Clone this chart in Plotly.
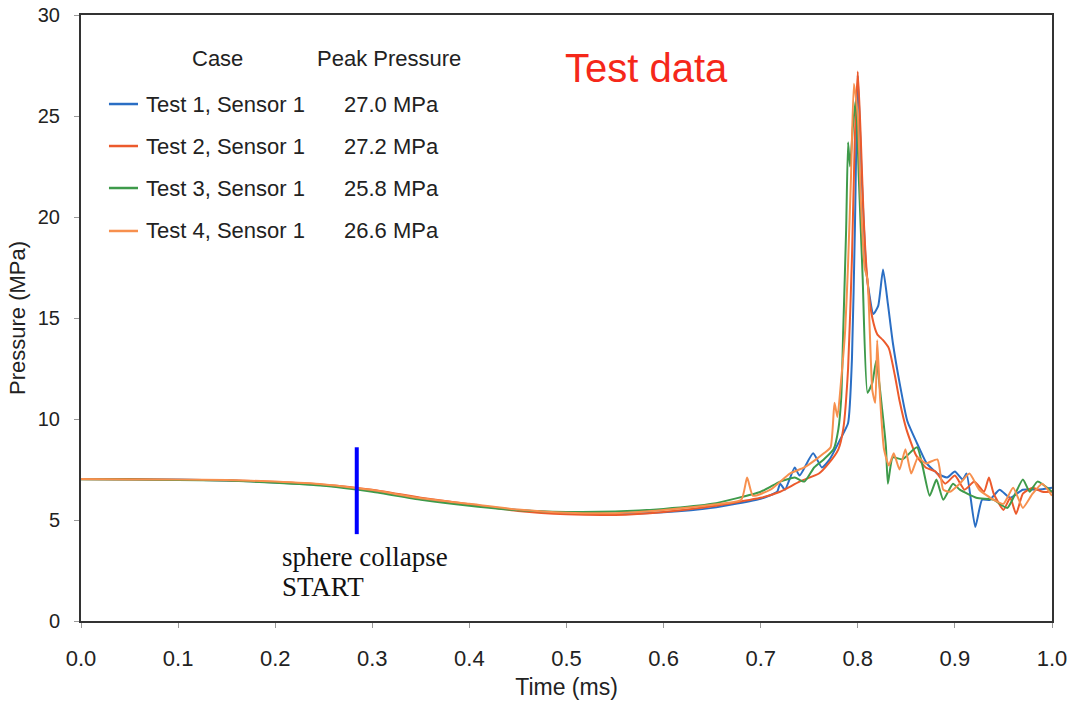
import plotly.graph_objects as go

# Shared baseline time grid (ms)
t_base = [0.0, 0.05, 0.1, 0.15, 0.2, 0.25, 0.3, 0.35, 0.4, 0.45, 0.5, 0.55, 0.6, 0.65]

# Test 1, Sensor 1
t1_time = t_base + [0.70, 0.717, 0.720, 0.725, 0.735, 0.740, 0.754, 0.763, 0.771, 0.782, 0.790,
                    0.794, 0.797, 0.800, 0.804, 0.809, 0.816, 0.821, 0.826, 0.831, 0.836, 0.843,
                    0.851, 0.861, 0.871, 0.882, 0.892, 0.900, 0.908, 0.912, 0.921, 0.928, 0.936,
                    0.946, 0.957, 0.970, 0.985, 1.0]
t1_p = [7.03, 7.02, 7.0, 6.96, 6.86, 6.72, 6.45, 6.05, 5.75, 5.5, 5.35, 5.3, 5.38, 5.6] + \
       [6.05, 6.4, 6.8, 6.5, 7.6, 7.2, 8.3, 7.6, 8.0, 9.0, 9.8,
        13.0, 19.4, 27.0, 22.0, 17.2, 15.2, 15.6, 17.4, 15.7, 13.8, 11.8,
        9.9, 8.8, 7.8, 7.3, 7.1, 7.4, 7.0, 7.3, 4.65, 6.0, 6.0,
        6.5, 6.1, 6.5, 6.5, 6.6]

# Test 2, Sensor 1
t2_time = t_base + [0.70, 0.72, 0.74, 0.76, 0.77, 0.78, 0.785, 0.79, 0.794, 0.797, 0.800, 0.803,
                    0.806, 0.810, 0.815, 0.820, 0.826, 0.832, 0.838, 0.843, 0.850, 0.860, 0.870,
                    0.880, 0.890, 0.900, 0.910, 0.920, 0.930, 0.935, 0.940, 0.950, 0.957, 0.963,
                    0.970, 0.980, 0.990, 1.0]
t2_p = [7.02, 7.03, 6.98, 6.97, 6.88, 6.75, 6.5, 6.1, 5.78, 5.45, 5.28, 5.25, 5.4, 5.68] + \
       [6.1, 6.4, 6.9, 7.3, 7.8, 8.5, 9.5, 12.5, 18.0, 24.0, 27.2, 24.0,
        20.0, 16.8, 15.0, 14.2, 13.9, 13.5, 12.2, 10.9, 9.5, 8.2, 7.6,
        7.4, 6.8, 7.2, 6.5, 6.9, 6.4, 7.1, 6.3, 5.5, 6.1, 5.3,
        6.3, 6.6, 6.4, 6.4]

# Test 3, Sensor 1
t3_time = t_base + [0.70, 0.72, 0.735, 0.745, 0.755, 0.765, 0.775, 0.780, 0.783, 0.785, 0.788,
                    0.790, 0.792, 0.795, 0.798, 0.801, 0.805, 0.810, 0.815, 0.819, 0.825, 0.829,
                    0.831, 0.836, 0.846, 0.861, 0.874, 0.881, 0.888, 0.898, 0.905, 0.922, 0.940,
                    0.954, 0.970, 0.977, 0.985, 1.0]
t3_p = [7.02, 7.0, 6.98, 6.95, 6.85, 6.7, 6.4, 6.0, 5.7, 5.48, 5.4, 5.42, 5.55, 5.8] + \
       [6.4, 6.9, 7.1, 6.9, 7.6, 8.0, 8.5, 9.5, 11.1, 14.4, 19.4,
        23.7, 22.5, 24.5, 25.8, 22.0, 17.0, 11.3, 11.8, 12.9, 10.5, 8.6,
        6.8, 8.1, 8.0, 8.6, 6.2, 7.0, 6.0, 6.8, 6.5, 6.1, 6.0,
        5.6, 7.0, 6.4, 6.9, 6.4]

# Test 4, Sensor 1
t4_time = t_base + [0.680, 0.686, 0.692, 0.710, 0.730, 0.745, 0.757, 0.765, 0.772, 0.776, 0.779,
                    0.783, 0.787, 0.790, 0.793, 0.796, 0.800, 0.803, 0.807, 0.810, 0.815, 0.818,
                    0.820, 0.823, 0.827, 0.832, 0.837, 0.843, 0.849, 0.855, 0.862, 0.870, 0.882,
                    0.888, 0.895, 0.905, 0.915, 0.925, 0.940, 0.950, 0.960, 0.970, 0.980,
                    0.990, 1.0]
t4_p = [7.03, 7.01, 7.0, 6.98, 6.9, 6.76, 6.48, 6.08, 5.8, 5.52, 5.36, 5.34, 5.5, 5.75] + \
       [6.0, 7.1, 6.2, 6.5, 7.3, 7.6, 8.0, 8.3, 8.6, 10.8, 10.1,
        12.0, 14.4, 17.7, 22.0, 26.6, 25.0, 21.0, 17.5, 16.9, 11.4, 10.8,
        13.9, 11.0, 8.5, 7.7, 8.3, 7.5, 8.5, 7.3, 8.1, 7.8, 8.0,
        6.5, 6.4, 6.8, 7.3, 6.5, 6.0, 5.8, 6.6, 5.6, 6.3,
        6.8, 6.2]

case_names = ["Test 1, Sensor 1", "Test 2, Sensor 1", "Test 3, Sensor 1", "Test 4, Sensor 1"]
peak_labels = ["27.0 MPa", "27.2 MPa", "25.8 MPa", "26.6 MPa"]
colors = ["#2a6ec4", "#ec5a2c", "#3e9a4a", "#f7904e"]
series = [(t1_time, t1_p), (t2_time, t2_p), (t3_time, t3_p), (t4_time, t4_p)]

x_ticks = [0.0, 0.1, 0.2, 0.3, 0.4, 0.5, 0.6, 0.7, 0.8, 0.9, 1.0]
y_ticks = [0, 5, 10, 15, 20, 25, 30]

collapse_start = 0.284

sans = "Liberation Sans, Arial, sans-serif"
serif = "Liberation Serif, Times New Roman, serif"
txt = "#222"

fig = go.Figure()
for name, col, (tt, pp) in zip(case_names, colors, series):
    fig.add_trace(go.Scatter(x=tt, y=pp, mode="lines", name=name,
                             line=dict(color=col, width=2, shape="spline", smoothing=0.5),
                             showlegend=False))

# Hand-built legend table
row_y = [0.8531, 0.7838, 0.7145, 0.6436]
fig.add_annotation(x=0.1401, y=0.929, xref="paper", yref="paper", text="Case",
                   showarrow=False, xanchor="center", yanchor="middle",
                   font=dict(family=sans, size=22, color=txt))
fig.add_annotation(x=0.241, y=0.929, xref="paper", yref="paper", text="Peak Pressure",
                   showarrow=False, xanchor="left", yanchor="middle",
                   font=dict(family=sans, size=22, color=txt))
for name, lab, col, ry in zip(case_names, peak_labels, colors, row_y):
    fig.add_shape(type="line", xref="paper", yref="paper", x0=0.0288, x1=0.0587,
                  y0=ry, y1=ry, line=dict(color=col, width=2.5))
    fig.add_annotation(x=0.0649, y=ry, xref="paper", yref="paper", text=name,
                       showarrow=False, xanchor="left", yanchor="middle",
                       font=dict(family=sans, size=22, color=txt))
    fig.add_annotation(x=0.2688, y=ry, xref="paper", yref="paper", text=lab,
                       showarrow=False, xanchor="left", yanchor="middle",
                       font=dict(family=sans, size=22, color=txt))

fig.add_annotation(x=0.5819, y=0.9125, xref="paper", yref="paper", text="Test data",
                   showarrow=False, xanchor="center", yanchor="middle",
                   font=dict(family=sans, size=40, color="#f5281a"))

# Collapse start marker
fig.add_shape(type="line", xref="x", yref="y", x0=collapse_start, x1=collapse_start,
              y0=4.3, y1=8.6, line=dict(color="#0000ff", width=4))
fig.add_annotation(x=0.205, y=3.17, xref="x", yref="y", text="sphere collapse",
                   showarrow=False, xanchor="left", yanchor="middle",
                   font=dict(family=serif, size=27, color="#111"))
fig.add_annotation(x=0.205, y=1.68, xref="x", yref="y", text="START",
                   showarrow=False, xanchor="left", yanchor="middle",
                   font=dict(family=serif, size=27, color="#111"))

fig.update_xaxes(range=[0, 1], tickvals=x_ticks, tickformat=".1f", automargin=False,
                 showgrid=False, zeroline=False, showline=True, mirror=True,
                 linecolor="#333", linewidth=2, ticks="outside", ticklen=5,
                 tickcolor="#999", ticklabelstandoff=12,
                 tickfont=dict(family=sans, size=22, color=txt),
                 title=dict(text="Time (ms)", standoff=8,
                            font=dict(family=sans, size=23, color=txt)))
fig.update_yaxes(range=[0, 30], tickvals=y_ticks, automargin=False,
                 showgrid=False, zeroline=False, showline=True, mirror=True,
                 linecolor="#333", linewidth=2, ticks="outside", ticklen=5,
                 tickcolor="#999", ticklabelstandoff=10,
                 tickfont=dict(family=sans, size=20, color=txt),
                 title=dict(text="Pressure (MPa)", standoff=6,
                            font=dict(family=sans, size=22, color=txt)))

fig.update_layout(width=1073, height=705, margin=dict(l=81, r=21, t=15, b=84),
                  plot_bgcolor="white", paper_bgcolor="white")

fig.write_html("out.html")
